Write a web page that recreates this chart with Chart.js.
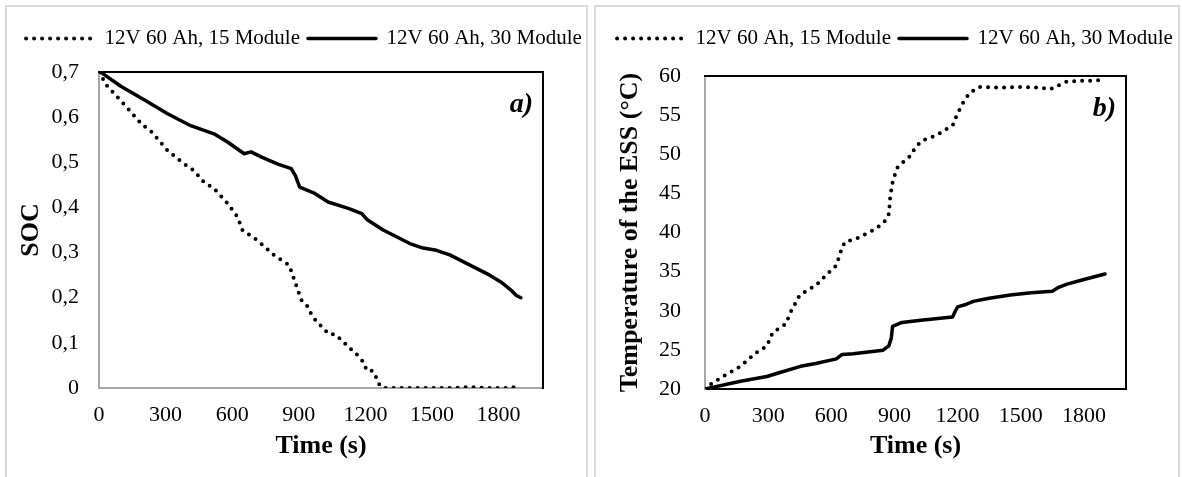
<!DOCTYPE html>
<html>
<head>
<meta charset="utf-8">
<script src="https://cdn.jsdelivr.net/npm/chart.js@4.4.1/dist/chart.umd.min.js"></script>
<style>
  html, body { margin: 0; padding: 0; background: #fff; }
  body { position: relative; width: 1182px; height: 477px; overflow: hidden; }
  .frame { position: absolute; top: 5px; height: 520px; border: 2px solid #d9d9d9; box-sizing: border-box; }
  .plot { position: absolute; top: 0; height: 477px; }
</style>
</head>
<body>
<div class="frame" style="left:5px;width:583px"></div>
<div class="frame" style="left:594px;width:586px"></div>
<div class="plot" style="left:0;width:590px"><canvas id="socChart"></canvas></div>
<div class="plot" style="left:590px;width:592px"><canvas id="tempChart"></canvas></div>
<script>
// series names and tick labels
const seriesNames = ['12V 60 Ah, 15 Module', '12V 60 Ah, 30 Module'];
const timeTicks = [0, 300, 600, 900, 1200, 1500, 1800];
const socTicks = [0, 0.1, 0.2, 0.3, 0.4, 0.5, 0.6, 0.7];
const tempTicks = [20, 25, 30, 35, 40, 45, 50, 55, 60];

// state of charge, 15 modules
const socTime15 = [0, 35, 125, 193, 238, 307, 382, 427, 473, 518, 579, 624, 646, 714, 789, 857, 880, 911, 941, 961, 1012, 1037, 1063, 1097, 1131, 1164, 1190, 1207, 1232, 1249, 1266, 1283, 1400, 1500, 1600, 1673, 1750, 1850, 1893];
const soc15 = [0.70, 0.670, 0.622, 0.584, 0.567, 0.527, 0.497, 0.482, 0.456, 0.442, 0.409, 0.379, 0.350, 0.327, 0.294, 0.272, 0.239, 0.195, 0.180, 0.158, 0.131, 0.119, 0.119, 0.104, 0.088, 0.073, 0.058, 0.038, 0.038, 0.023, 0.004, 0, 0, 0, 0, 0.002, 0, 0, 0.004];

// state of charge, 30 modules
const socTime30 = [0, 12, 100, 209, 307, 413, 518, 579, 654, 685, 730, 806, 866, 885, 904, 972, 1032, 1123, 1184, 1210, 1280, 1340, 1400, 1460, 1520, 1580, 1640, 1700, 1760, 1810, 1860, 1880, 1900];
const soc30 = [0.70, 0.698, 0.668, 0.637, 0.608, 0.581, 0.563, 0.545, 0.519, 0.523, 0.512, 0.496, 0.486, 0.470, 0.445, 0.431, 0.412, 0.398, 0.386, 0.372, 0.350, 0.335, 0.320, 0.310, 0.305, 0.295, 0.280, 0.265, 0.250, 0.235, 0.215, 0.205, 0.200];

// ESS temperature, 15 modules
const tempTime15 = [0, 9, 98, 169, 241, 294, 321, 383, 410, 450, 529, 577, 624, 648, 664, 719, 814, 853, 874, 880, 893, 916, 972, 1003, 1035, 1098, 1177, 1193, 1224, 1256, 1303, 1400, 1500, 1600, 1640, 1680, 1720, 1800, 1850, 1900];
const temp15 = [20, 20.3, 21.8, 22.9, 24.6, 25.5, 27.2, 28.3, 30.0, 32.0, 33.3, 34.6, 35.8, 37.8, 38.8, 39.2, 40.5, 41.4, 42.4, 44.6, 46.7, 48.4, 49.7, 51.0, 51.8, 52.4, 53.7, 54.8, 56.5, 57.8, 58.6, 58.5, 58.6, 58.5, 58.3, 58.8, 59.3, 59.4, 59.4, 59.6];

// ESS temperature, 30 modules
const tempTime30 = [0, 169, 294, 348, 454, 526, 624, 650, 704, 846, 873, 885, 891, 936, 1025, 1176, 1190, 1200, 1239, 1274, 1350, 1450, 1550, 1650, 1680, 1720, 1800, 1900];
const temp30 = [20, 21, 21.6, 22.05, 22.9, 23.25, 23.85, 24.4, 24.5, 24.96, 25.5, 26.5, 28.0, 28.5, 28.8, 29.2, 30.0, 30.5, 30.8, 31.2, 31.6, 32.0, 32.3, 32.5, 33.0, 33.4, 34.0, 34.7];

Chart.defaults.font.family = '"Liberation Serif", "Times New Roman", serif';
Chart.defaults.color = '#000';

const pts = (xs, ys) => xs.map((x, i) => ({ x: x, y: ys[i] }));

const dotted = { borderColor: '#000', backgroundColor: '#000', borderWidth: 4, borderDash: [0, 8], borderCapStyle: 'round', pointRadius: 0, showLine: true, tension: 0 };
const solid = { borderColor: '#000', backgroundColor: '#000', borderWidth: 3.5, borderCapStyle: 'round', borderJoinStyle: 'round', pointRadius: 0, showLine: true, tension: 0 };

// "a)" / "b)" tag in the top right corner
const panelTag = {
  id: 'panelTag',
  afterDraw(chart, args, opts) {
    const { ctx, chartArea: a } = chart;
    ctx.save();
    ctx.font = 'italic bold 28px "Liberation Serif"';
    ctx.fillStyle = '#000';
    ctx.textAlign = 'right';
    ctx.textBaseline = 'alphabetic';
    ctx.fillText(opts.text, a.right - 10, a.top + 40);
    ctx.restore();
  }
};

// keep the legend band a fixed height so the plot top lines up
const legendBand = {
  id: 'legendBand',
  beforeLayout(chart, args, opts) {
    const lg = chart.legend;
    if (!lg || lg._banded) return;
    const fit = lg.fit.bind(lg);
    lg.fit = function () { fit(); this.height = opts.height; };
    lg._banded = true;
  }
};

// legend samples: reuse the dataset line style (dash, cap, width)
function legendLabels(chart) {
  const items = Chart.defaults.plugins.legend.labels.generateLabels(chart);
  items.forEach(it => {
    const ds = chart.data.datasets[it.datasetIndex];
    it.lineDash = ds.borderDash || [];
    it.lineCap = ds.borderCapStyle;
    it.lineWidth = ds.borderWidth;
    it.strokeStyle = ds.borderColor;
    it.pointStyle = 'line';
  });
  return items;
}

// empty axis used only as a plot-area edge
const edgeAxis = (position, size) => ({
  type: 'linear',
  position: position,
  display: true,
  min: 0,
  max: 1,
  afterFit: s => { if (position === 'top') s.height = size; else s.width = size; },
  grid: { drawOnChartArea: false, drawTicks: false },
  border: { display: true, color: '#000', width: 2 },
  ticks: { display: false }
});

function makeChart(id, cfg) {
  return new Chart(document.getElementById(id), {
    type: 'scatter',
    data: {
      datasets: [
        Object.assign({ label: seriesNames[0], data: cfg.data15 }, dotted),
        Object.assign({ label: seriesNames[1], data: cfg.data30 }, solid)
      ]
    },
    plugins: [legendBand, panelTag],
    options: {
      responsive: true,
      maintainAspectRatio: false,
      animation: false,
      events: [],
      layout: { padding: { top: 20, left: 18, right: 0, bottom: 0 } },
      plugins: {
        legendBand: { height: cfg.legendHeight },
        panelTag: { text: cfg.tag },
        tooltip: { enabled: false },
        legend: {
          display: true,
          position: 'top',
          labels: {
            usePointStyle: true,
            pointStyle: 'line',
            pointStyleWidth: 68,
            padding: 8,
            color: '#000',
            font: { size: 21 },
            generateLabels: legendLabels
          }
        }
      },
      scales: {
        x: {
          type: 'linear',
          min: 0,
          max: 2000,
          afterFit: s => { s.height = cfg.xHeight; },
          afterBuildTicks: s => { s.ticks = timeTicks.map(v => ({ value: v })); },
          grid: { drawOnChartArea: false, drawTicks: false },
          border: { display: true, color: cfg.xBorder, width: 2 },
          ticks: { padding: 14, maxRotation: 0, autoSkip: false, font: { size: 22 }, callback: v => String(v) },
          title: { display: true, text: 'Time (s)', font: { size: 26, weight: 'bold', lineHeight: 1.2 }, padding: { top: 0, bottom: 15 } }
        },
        y: {
          type: 'linear',
          min: cfg.yMin,
          max: cfg.yMax,
          afterFit: s => { s.width = cfg.yWidth; },
          afterBuildTicks: s => { s.ticks = cfg.yTicks.map(v => ({ value: v })); },
          grid: { drawOnChartArea: false, drawTicks: false },
          border: { display: true, color: '#a6a6a6', width: 2 },
          ticks: { padding: cfg.yPad, autoSkip: false, font: { size: 22 }, callback: cfg.yFormat },
          title: { display: true, text: cfg.yTitle, font: { size: 26, weight: 'bold', lineHeight: 1.0 }, padding: { top: cfg.yTitlePad, bottom: 0 } }
        },
        xTop: edgeAxis('top', 0),
        yRight: edgeAxis('right', cfg.rightGap)
      }
    }
  });
}

makeChart('socChart', {
  data15: pts(socTime15, soc15),
  data30: pts(socTime30, soc30),
  tag: 'a)',
  rightGap: 47,
  legendHeight: 52,
  xHeight: 89,
  xBorder: '#a6a6a6',
  yMin: 0,
  yMax: 0.7,
  yTicks: socTicks,
  yWidth: 81,
  yPad: 20,
  yTitle: 'SOC',
  yTitlePad: 0,
  yFormat: v => (v === 0 ? '0' : v.toFixed(1).replace('.', ','))
});

makeChart('tempChart', {
  data15: pts(tempTime15, temp15),
  data30: pts(tempTime30, temp30),
  tag: 'b)',
  rightGap: 56,
  legendHeight: 56,
  xHeight: 88,
  xBorder: '#000',
  yMin: 20,
  yMax: 60,
  yTicks: tempTicks,
  yWidth: 97,
  yPad: 24,
  yTitle: 'Temperature of the ESS (°C)',
  yTitlePad: 9,
  yFormat: v => String(v)
});
</script>
</body>
</html>
